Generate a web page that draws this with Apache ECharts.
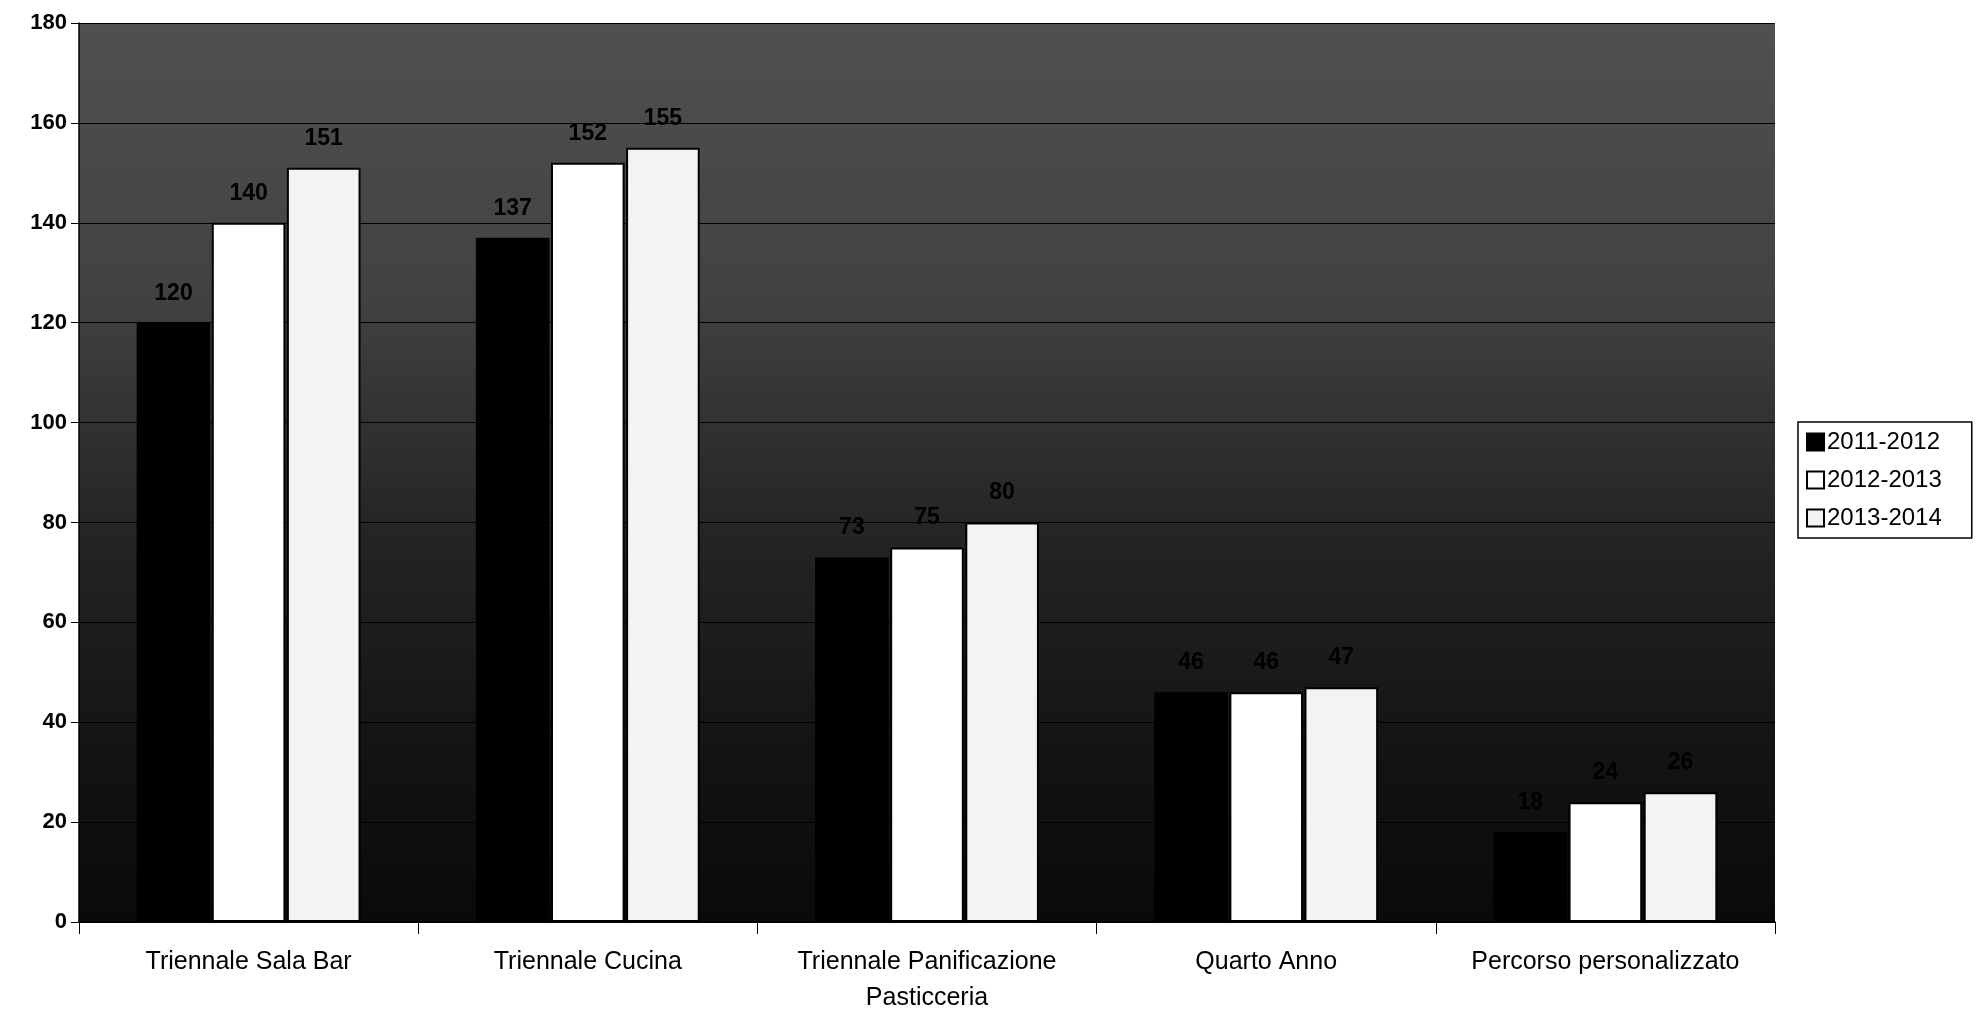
<!DOCTYPE html>
<html>
<head>
<meta charset="utf-8">
<script src="https://cdn.jsdelivr.net/npm/echarts@6/dist/echarts.min.js"></script>
<style>
html,body{margin:0;padding:0;background:#fff;}
#chart{width:1988px;height:1012px;}
</style>
</head>
<body>
<div id="chart"></div>
<script>
const categories = ['Triennale Sala Bar', 'Triennale Cucina', 'Triennale Panificazione\nPasticceria', 'Quarto Anno', 'Percorso personalizzato'];
const seriesNames = ['2011-2012', '2012-2013', '2013-2014'];
const values2011 = [120, 137, 73, 46, 18];
const values2012 = [140, 152, 75, 46, 24];
const values2013 = [151, 155, 80, 47, 26];
const yTicks = [0, 20, 40, 60, 80, 100, 120, 140, 160, 180];

const chart = echarts.init(document.getElementById('chart'));
const fills = ['#000000', '#ffffff', '#f3f3f3'];
const allValues = [values2011, values2012, values2013];
const FONT = 'Liberation Sans, Arial, sans-serif';

const series = seriesNames.map((name, i) => ({
  name: name,
  type: 'bar',
  data: allValues[i],
  barGap: '2%',
  barCategoryGap: '34%',
  itemStyle: { color: fills[i], borderColor: '#000', borderWidth: 2 },
  label: {
    show: true, position: 'top', distance: 18,
    color: '#000', fontFamily: FONT, fontWeight: 'bold', fontSize: 23
  }
}));

chart.setOption({
  animation: false,
  backgroundColor: '#ffffff',
  grid: {
    left: 79, right: 213, top: 23, bottom: 90,
    containLabel: false,
    outerBoundsMode: 'none',
    show: true,
    borderWidth: 0,
    backgroundColor: {
      type: 'linear', x: 0, y: 0, x2: 0, y2: 1,
      colorStops: [
        { offset: 0, color: '#505050' },
        { offset: 0.3, color: '#424242' },
        { offset: 0.55, color: '#262626' },
        { offset: 0.8, color: '#141414' },
        { offset: 1, color: '#0a0a0a' }
      ]
    }
  },
  legend: {
    orient: 'vertical',
    left: 1798, top: 422,
    backgroundColor: '#fff',
    borderColor: '#000', borderWidth: 1.5,
    padding: [8, 30, 8, 8],
    itemWidth: 17, itemHeight: 17, itemGap: 14,
    icon: 'rect',
    data: seriesNames,
    textStyle: { fontFamily: FONT, fontSize: 24, color: '#000', padding: [0, 0, 0, -2] }
  },
  xAxis: {
    type: 'category',
    data: categories,
    axisLine: { lineStyle: { color: '#000', width: 1.5 } },
    axisTick: { show: true, interval: 0, length: 12, lineStyle: { color: '#000' } },
    axisLabel: {
      interval: 0, hideOverlap: false,
      margin: 22, color: '#000', fontFamily: FONT, fontSize: 25, lineHeight: 36
    }
  },
  yAxis: {
    type: 'value',
    min: 0, max: 180, interval: 20,
    axisLine: { show: true, lineStyle: { color: '#000', width: 1.5 } },
    axisTick: { show: true, length: 8, lineStyle: { color: '#000' } },
    splitLine: { lineStyle: { color: '#000', width: 1.2 } },
    axisLabel: {
      margin: 12, color: '#000', fontFamily: FONT, fontWeight: 'bold', fontSize: 22,
      formatter: v => yTicks.includes(v) ? String(v) : ''
    }
  },
  series: series
});
</script>
</body>
</html>
